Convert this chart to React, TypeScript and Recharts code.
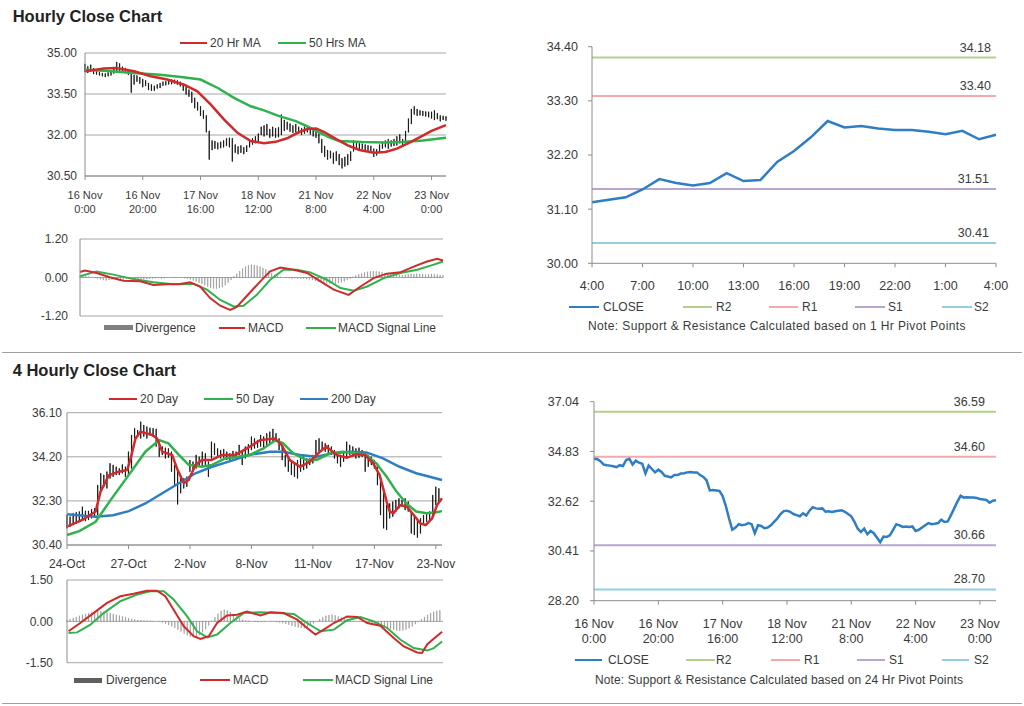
import React from 'react'
import { ComposedChart, LineChart, Bar, Line, XAxis, YAxis, CartesianGrid, ReferenceLine } from 'recharts'

const FONT = '"Liberation Sans", Arial, Helvetica, sans-serif'
const TEXT = '#3a3a3a'
const AXIS = '#8c8c8c'
const GRID = '#a6a6a6'
const RED = '#d02a2a'
const GREEN = '#2fb24c'
const BLUE = '#2f7dc3'
const DIV_GREY = '#8a8a8a'
const R2_C = '#b3d18c'
const R1_C = '#f2aaaa'
const S1_C = '#b7a6d0'
const S2_C = '#93cfe0'

// ---- hourly close chart (16 Nov 0:00 -> 23 Nov 4:00), one bar per hour
const HOURLY_TICKS = [0, 20, 40, 60, 80, 100, 120]
const HOURLY_LABELS = [
  ['16 Nov', '0:00'], ['16 Nov', '20:00'], ['17 Nov', '16:00'], ['18 Nov', '12:00'],
  ['21 Nov', '8:00'], ['22 Nov', '4:00'], ['23 Nov', '0:00'],
]
const HOURLY_LOW = [
  34.31, 34.27, 34.33, 34.23, 34.21, 34.18, 34.15, 34.12, 34.15, 34.18,
  34.25, 34.30, 34.28, 34.30, 34.26, 34.20, 33.55, 33.85, 33.95, 33.88,
  33.75, 33.80, 33.65, 33.62, 33.62, 33.70, 33.72, 33.80, 33.82, 33.85,
  33.86, 33.88, 33.84, 33.78, 33.62, 33.48, 33.40, 33.18, 32.98, 32.90,
  32.70, 32.60, 32.10, 31.10, 31.45, 31.50, 31.48, 31.52, 31.55, 31.60,
  31.55, 31.03, 31.35, 31.30, 31.35, 31.30, 31.38, 31.55, 31.65, 31.70,
  31.78, 32.00, 31.95, 32.00, 31.90, 31.95, 31.90, 31.92, 32.00, 32.15,
  32.20, 32.12, 32.08, 32.10, 32.05, 32.00, 32.05, 32.10, 32.02, 31.95,
  31.90, 31.70, 31.35, 31.20, 31.10, 31.15, 30.95, 31.05, 30.90, 30.78,
  30.85, 30.90, 31.05, 31.40, 31.50, 31.45, 31.48, 31.45, 31.42, 31.40,
  31.20, 31.25, 31.35, 31.50, 31.55, 31.50, 31.58, 31.60, 31.62, 31.70,
  31.60, 31.75, 32.10, 32.40, 32.75, 32.70, 32.72, 32.70, 32.68, 32.65,
  32.60, 32.55, 32.58, 32.50, 32.55, 32.52,
]
const HOURLY_HIGH = [
  34.60, 34.51, 34.57, 34.45, 34.33, 34.30, 34.27, 34.25, 34.29, 34.35,
  34.48, 34.67, 34.62, 34.50, 34.45, 34.40, 34.32, 34.20, 34.18, 34.12,
  34.05, 34.00, 33.90, 33.85, 33.80, 33.85, 33.90, 33.95, 33.97, 34.00,
  34.03, 34.02, 34.00, 33.95, 33.88, 33.78, 33.66, 33.58, 33.36, 33.20,
  33.05, 32.90, 32.72, 32.15, 31.80, 31.78, 31.72, 31.75, 31.80, 31.88,
  31.90, 31.88, 31.65, 31.58, 31.62, 31.55, 31.62, 31.80, 31.88, 31.95,
  32.05, 32.30, 32.35, 32.40, 32.22, 32.30, 32.25, 32.28, 32.75, 32.55,
  32.48, 32.42, 32.35, 32.40, 32.30, 32.25, 32.30, 32.28, 32.25, 32.22,
  32.15, 32.05, 31.85, 31.60, 31.45, 31.42, 31.35, 31.40, 31.30, 31.15,
  31.20, 31.30, 31.40, 31.80, 31.72, 31.70, 31.68, 31.65, 31.62, 31.60,
  31.50, 31.48, 31.65, 31.72, 31.80, 31.85, 31.80, 31.85, 31.95, 32.02,
  31.85, 32.15, 32.60, 32.95, 33.05, 32.95, 32.90, 32.88, 32.86, 32.85,
  32.85, 32.90, 32.80, 32.72, 32.70, 32.68,
]
// [hour index, value]
const HR_MA20 = [
  [0, 34.33], [6.6, 34.43], [10.7, 34.45], [17, 34.33], [22.8, 34.15], [28.5, 34.03],
  [34.3, 33.84], [38.9, 33.6], [43.5, 33.12], [48.1, 32.57], [52.8, 32.08], [57.4, 31.78],
  [62, 31.7], [66, 31.75], [70, 31.88], [74, 32.1], [77, 32.22], [80, 32.24], [83, 32.1],
  [87, 31.85], [91, 31.62], [95, 31.45], [100, 31.35], [104, 31.38], [108, 31.5],
  [112, 31.7], [116, 31.92], [120, 32.15], [125, 32.36],
]
const HR_MA50 = [
  [0, 34.39], [8, 34.34], [17, 34.27], [26, 34.2], [34, 34.11], [40, 34.03], [46, 33.72],
  [51.6, 33.36], [57.4, 33.05], [62, 32.9], [67, 32.7], [73, 32.51], [77, 32.32], [81, 32.1],
  [85, 31.9], [88, 31.78], [96, 31.74], [104, 31.73], [110, 31.74], [117, 31.8], [125, 31.9],
]
const HR_MACD = [
  [0, 0.17], [1.7, 0.22], [5.7, 0.14], [10.3, 0.01], [14.9, -0.1], [20.7, -0.12], [25.3, -0.23],
  [29.9, -0.21], [34.5, -0.2], [37.9, -0.15], [41.4, -0.28], [44.8, -0.64], [48.3, -0.88],
  [51.7, -1.01], [54, -0.92], [57.5, -0.57], [62.1, -0.12], [65.5, 0.19], [69, 0.31],
  [73.6, 0.24], [78.2, 0.14], [82.8, -0.12], [87.4, -0.38], [92.5, -0.54], [96.6, -0.28],
  [101.1, -0.02], [105.7, 0.12], [110.3, 0.16], [114.9, 0.34], [119.5, 0.5], [123, 0.58], [125, 0.53],
]
const HR_SIGNAL = [
  [0, 0.04], [5.7, 0.19], [11.5, 0.09], [18.4, -0.05], [25.3, -0.15], [32.2, -0.21], [39.1, -0.2],
  [43.7, -0.38], [48.3, -0.7], [52.9, -0.9], [56.3, -0.88], [60.9, -0.54], [65.5, -0.07],
  [70.1, 0.24], [74.7, 0.24], [79.3, 0.16], [85, -0.07], [89.7, -0.33], [94.3, -0.41],
  [98.9, -0.28], [104.6, -0.02], [110.3, 0.14], [116.1, 0.24], [121.8, 0.4], [125, 0.5],
]
const HR_DIVERGENCE = [
  0.05, 0.06, 0.05, 0.03, 0.01, -0.01,
  -0.04, -0.06, -0.08, -0.09, -0.08, -0.06, -0.05,
  -0.04, -0.05, -0.06, -0.05, -0.04, -0.03, -0.04, -0.05,
  -0.05, -0.06, -0.05, -0.04, -0.03, -0.02, -0.02, -0.03, -0.02, -0.01,
  0.0, 0.01, 0.01, 0.0, -0.01, -0.02, -0.04,
  -0.06, -0.09, -0.12, -0.16, -0.2, -0.24, -0.28, -0.32, -0.34, -0.35, -0.33, -0.3, -0.24, -0.16, -0.08,
  0.04, 0.12, 0.2, 0.28, 0.34, 0.38, 0.4, 0.39, 0.37, 0.34, 0.3, 0.26, 0.2, 0.14, 0.08, 0.04,
  0.02, 0.0, -0.01, -0.02, -0.03, -0.02, -0.03, -0.04, -0.03, -0.05, -0.06,
  -0.08, -0.1, -0.12, -0.14, -0.16, -0.18, -0.19, -0.2, -0.19, -0.17, -0.15, -0.12, -0.08, -0.04,
  0.02, 0.06, 0.1, 0.13, 0.16, 0.18, 0.19, 0.2, 0.19, 0.18, 0.16, 0.14, 0.12, 0.1, 0.09,
  0.08, 0.08, 0.07, 0.09, 0.1, 0.11, 0.1, 0.12, 0.11, 0.1, 0.09, 0.1, 0.11, 0.1, 0.09, 0.08, 0.07,
]

// ---- 1 hr pivot chart (last 24 hours)
const PIVOT1_HOURS = [
  '4:00', '5:00', '6:00', '7:00', '8:00', '9:00', '10:00', '11:00', '12:00', '13:00', '14:00', '15:00',
  '16:00', '17:00', '18:00', '19:00', '20:00', '21:00', '22:00', '23:00', '0:00', '1:00', '2:00', '3:00', '4:00',
]
const PIVOT1_CLOSE = [
  31.24, 31.29, 31.34, 31.5, 31.71, 31.63, 31.58, 31.63, 31.83, 31.67, 31.69, 32.06, 32.28,
  32.56, 32.89, 32.76, 32.79, 32.74, 32.71, 32.71, 32.67, 32.62, 32.69, 32.52, 32.61,
]
const PIVOT1_LEVELS = { r2: 34.18, r1: 33.4, s1: 31.51, s2: 30.41 }

// ---- 24 hr pivot chart (hourly closes, same span as hourly chart)
const PIVOT24_CLOSE = [
  34.49, 34.49, 34.4, 34.25, 34.22, 34.2, 34.17, 34.13, 34.22, 34.18,
  34.45, 34.5, 34.25, 34.42, 34.33, 34.28, 33.85, 34.2, 34.05, 33.9,
  34.02, 33.92, 33.75, 33.72, 33.68, 33.78, 33.78, 33.85, 33.86, 33.9,
  33.92, 33.9, 33.9, 33.78, 33.7, 33.55, 33.1, 33.12, 33.1, 33.08,
  32.85, 32.4, 31.85, 31.35, 31.45, 31.6, 31.55, 31.58, 31.65, 31.6,
  31.2, 31.55, 31.52, 31.42, 31.45, 31.55, 31.7, 31.85, 32.05, 32.18,
  32.2, 32.15, 32.05, 32.0, 31.95, 32.08, 31.98, 32.2, 32.35, 32.3,
  32.28, 32.3, 32.15, 32.17, 32.14, 32.17, 32.2, 32.22, 32.15, 32.05,
  31.95, 31.7, 31.4, 31.25, 31.4, 31.15, 31.3, 31.2, 31.0, 30.8,
  31.05, 31.03, 31.1, 31.35, 31.6, 31.55, 31.48, 31.5, 31.48, 31.5,
  31.3, 31.35, 31.45, 31.55, 31.65, 31.6, 31.62, 31.65, 31.8, 31.7,
  31.72, 32.0, 32.3, 32.6, 32.86, 32.78, 32.8, 32.78, 32.78, 32.76,
  32.72, 32.7, 32.68, 32.55, 32.64, 32.66,
]
const PIVOT24_LEVELS = { r2: 36.59, r1: 34.6, s1: 30.66, s2: 28.7 }

// ---- 4 hourly close chart (24-Oct -> 23-Nov)
const FOURH_TICKS = [0, 20, 40, 60, 80, 100, 120]
const FOURH_LABELS = ['24-Oct', '27-Oct', '2-Nov', '8-Nov', '11-Nov', '17-Nov', '23-Nov']
const FOURH_LOW = [
  31.12, 31.19, 31.26, 31.33, 31.4, 31.48, 31.43, 31.48, 31.55, 31.62,
  31.69, 32.7, 32.91, 32.84, 33.27, 33.34, 33.42, 33.42, 33.49, 33.34,
  33.42, 33.7, 34.99, 35.07, 34.99, 35.07, 34.99, 35.14, 35.07, 34.64,
  34.2, 34.28, 34.13, 34.16, 33.56, 32.98, 32.15, 32.63, 32.84, 32.91,
  33.56, 33.63, 33.7, 33.77, 33.77, 33.85, 33.34, 34.13, 34.28, 34.2,
  34.13, 34.16, 34.06, 34.02, 34.13, 34.06, 34.28, 33.85, 34.13, 34.28,
  34.49, 34.56, 34.59, 34.64, 34.56, 34.71, 34.78, 34.82, 34.85, 34.49,
  34.06, 33.77, 33.56, 33.42, 33.34, 33.27, 33.56, 33.63, 33.7, 33.85,
  33.92, 34.13, 34.42, 34.49, 34.42, 34.28, 34.28, 34.13, 33.92, 33.77,
  33.99, 34.13, 34.28, 34.2, 34.13, 34.16, 34.2, 33.56, 33.77, 33.85,
  33.7, 32.98, 31.69, 31.12, 31.05, 31.55, 31.62, 31.84, 31.98, 32.05,
  31.91, 31.84, 30.9, 30.83, 30.72, 30.9, 31.33, 31.4, 31.48, 31.69,
  32.12, 32.27,
]
const FOURH_HIGH = [
  31.69, 31.62, 31.77, 31.81, 31.84, 32.05, 31.87, 31.87, 31.95, 31.98,
  32.98, 33.49, 33.42, 33.56, 33.92, 33.85, 33.77, 33.7, 33.87, 33.77,
  34.42, 35.14, 35.43, 35.35, 35.71, 35.57, 35.5, 35.45, 35.43, 35.4,
  34.85, 34.64, 34.59, 34.56, 34.42, 33.85, 33.63, 33.34, 33.27, 33.34,
  34.06, 33.99, 34.28, 34.2, 34.42, 34.35, 33.99, 34.85, 34.78, 34.56,
  34.49, 34.53, 34.42, 34.35, 34.45, 34.42, 34.71, 34.42, 34.64, 34.74,
  35.07, 34.99, 34.92, 35.14, 35.07, 35.21, 35.28, 35.4, 35.21, 34.99,
  34.71, 34.28, 34.2, 33.99, 33.92, 34.06, 34.13, 34.2, 34.13, 34.13,
  34.28, 34.92, 34.99, 34.85, 34.78, 34.71, 34.64, 34.49, 34.35, 34.28,
  34.42, 34.85, 34.71, 34.64, 34.56, 34.59, 34.49, 34.35, 34.28, 34.2,
  34.06, 33.92, 33.13, 32.7, 32.12, 32.19, 32.27, 32.34, 32.41, 32.34,
  32.41, 32.27, 31.84, 31.69, 31.48, 31.55, 31.69, 31.77, 31.84, 32.55,
  32.91, 32.84,
]
const D_MA20 = [
  [0, 31.19], [5, 31.48], [9.3, 31.84], [10.9, 32.7], [13.6, 33.4], [16.9, 33.56], [19.6, 33.63],
  [20.7, 34.13], [22.3, 34.99], [23.9, 35.28], [27.7, 35.14], [29.3, 34.99], [31, 34.42],
  [34.2, 34.28], [35.8, 33.7], [38, 33.06], [39.6, 33.2], [41.8, 33.85], [43.9, 34.06],
  [47, 34.06], [50.4, 34.28], [54.8, 34.28], [59.5, 34.64], [62.8, 34.92], [67.6, 34.99],
  [69.8, 34.71], [72.5, 34.06], [75.8, 33.77], [79, 33.99], [82.3, 34.42], [84.4, 34.64],
  [87.7, 34.28], [91, 34.16], [94.2, 34.31], [96.9, 34.28], [99.6, 33.92], [101.7, 33.42],
  [104, 32.27], [105, 31.84], [106.2, 31.77], [108.4, 32.12], [110.6, 32.05], [112.8, 31.69],
  [115, 31.33], [116.7, 31.26], [118.8, 31.55], [120.4, 32.12], [122, 32.41],
]
const D_MA50 = [
  [0, 30.83], [4, 31.0], [9.3, 31.4], [14, 32.3], [20, 33.4], [25.5, 34.42], [30, 34.92],
  [33, 34.78], [36.4, 34.28], [39.6, 33.85], [43.9, 33.77], [47.2, 33.85], [51.5, 34.13],
  [55.5, 34.2], [59.5, 34.28], [63.9, 34.56], [67.9, 34.92], [70.3, 34.78], [73.6, 34.35],
  [77.9, 34.06], [81.2, 34.06], [85.5, 34.35], [89.8, 34.42], [94.2, 34.35], [97.4, 34.28],
  [100.6, 33.92], [104, 33.34], [107.2, 32.7], [110.4, 32.19], [113.6, 31.84], [117, 31.77],
  [120.2, 31.81], [122, 31.86],
]
const D_MA200 = [
  [0, 31.72], [9.3, 31.62], [15, 31.68], [20.1, 31.86], [25.5, 32.19], [31, 32.63], [36.4, 33.06],
  [41.8, 33.49], [47.2, 33.77], [52.6, 33.99], [59.1, 34.28], [66, 34.42], [70.3, 34.42],
  [75.8, 34.28], [81.2, 34.2], [86.5, 34.35], [92, 34.42], [97.4, 34.39], [102.8, 34.13],
  [108.2, 33.77], [113.6, 33.49], [118, 33.34], [122, 33.2],
]
const D_MACD = [
  [0.5, -0.36], [4.3, -0.06], [8.6, 0.3], [13, 0.67], [17.3, 0.91], [21.6, 1.0], [25.9, 1.11],
  [29.2, 1.11], [31.9, 0.91], [34.6, 0.42], [37.9, -0.18], [41.1, -0.54], [43.3, -0.64],
  [46, -0.54], [48.7, -0.06], [51.9, 0.21], [55.2, 0.24], [58.4, 0.36], [62.8, 0.21], [66, 0.33],
  [70.3, 0.3], [74.7, 0.06], [77.9, -0.24], [80.6, -0.48], [83.3, -0.3], [86.6, -0.06],
  [90.9, 0.18], [94.2, 0.16], [97.4, -0.06], [101.7, -0.16], [106.1, -0.61], [109.3, -0.91],
  [113.6, -1.13], [115.2, -1.15], [116.9, -0.83], [119, -0.63], [121.7, -0.38],
]
const D_SIGNAL = [
  [0.5, -0.42], [3.3, -0.4], [7.6, -0.12], [11.9, 0.3], [17.3, 0.73], [22.7, 0.97], [27, 1.09],
  [31.4, 1.09], [34.6, 0.79], [39, 0.18], [42.2, -0.36], [45.5, -0.58], [48.7, -0.48], [53, -0.06],
  [57.3, 0.3], [62.8, 0.33], [68.2, 0.3], [73.6, 0.27], [77.9, -0.06], [82.3, -0.36], [86.6, -0.3],
  [90.9, 0.04], [95.2, 0.16], [99.5, 0.0], [103.9, -0.24], [108.2, -0.67], [112.5, -0.97],
  [116.9, -1.06], [119, -0.97], [121.7, -0.73],
]
const D_DIVERGENCE = [
  0.05, 0.08, 0.12, 0.16,
  0.2, 0.24, 0.27, 0.3, 0.32, 0.34, 0.36, 0.36, 0.35, 0.33,
  0.3, 0.27, 0.24, 0.21, 0.18, 0.15, 0.12, 0.09, 0.07,
  0.05, 0.04, 0.03, 0.02, 0.02, 0.01, 0.0, -0.01,
  -0.04, -0.08, -0.13, -0.18, -0.24, -0.3, -0.37, -0.44, -0.5, -0.55, -0.58, -0.56, -0.5, -0.4, -0.28, -0.15,
  0.02, 0.15, 0.28, 0.38, 0.42, 0.4, 0.34, 0.26, 0.18, 0.11, 0.06, 0.03,
  0.02, 0.0, -0.02, -0.03, -0.02, -0.01, 0.0, 0.01, 0.0, -0.02, -0.04, -0.06,
  -0.09, -0.12, -0.16, -0.19, -0.22, -0.24, -0.25, -0.22, -0.16, -0.08, 0.0,
  0.08, 0.15, 0.2, 0.23, 0.24, 0.22, 0.18, 0.13, 0.08, 0.04,
  0.02, 0.01, 0.0, -0.01, -0.02, -0.03, -0.05, -0.07,
  -0.1, -0.13, -0.17, -0.21, -0.25, -0.28, -0.31, -0.33, -0.34, -0.33, -0.3, -0.25, -0.18, -0.1, -0.02,
  0.08, 0.16, 0.24, 0.3, 0.35, 0.38, 0.4,
]

const pts = (arr: number[][]) => arr.map(([i, v]) => ({ i, v }))
const hourlyBars = HOURLY_LOW.map((lo, i) => ({ i, range: [lo, HOURLY_HIGH[i]] }))
const fourhBars = FOURH_LOW.map((lo, i) => ({ i, range: [lo, FOURH_HIGH[i]] }))
const hrDiv = HR_DIVERGENCE.map((d, i) => ({ i, d }))
const dDiv = D_DIVERGENCE.map((d, i) => ({ i, d }))
const pivot1 = PIVOT1_CLOSE.map((v, k) => ({ h: PIVOT1_HOURS[k], v }))
const pivot24 = PIVOT24_CLOSE.map((v, i) => ({ i, v }))

const fmt2 = (v: number) => v.toFixed(2)
const yTick = { fontSize: 12, fill: TEXT, fontFamily: FONT }

function DateTick(props: any) {
  const { x, y, payload, labels, step, size, dy1, dy2 } = props
  const lab = labels[Math.round(payload.value / step)]
  if (!lab) return null
  const [a, b] = Array.isArray(lab) ? lab : [lab, '']
  return (
    <text x={x} y={y} textAnchor="middle" fontSize={size} fill={TEXT} fontFamily={FONT}>
      <tspan x={x} dy={dy1}>{a}</tspan>
      {b ? <tspan x={x} dy={dy2}>{b}</tspan> : null}
    </text>
  )
}

function HourTick(props: any) {
  const { x, y, payload } = props
  return (
    <text x={x} y={y + 21} textAnchor="middle" fontSize={12.5} fill={TEXT} fontFamily={FONT}>
      {payload.value}
    </text>
  )
}

function PivotLabel(props: any) {
  const { viewBox, txt, inset } = props
  if (!viewBox) return null
  return (
    <text x={viewBox.x + viewBox.width - inset} y={viewBox.y - 6} textAnchor="end"
      fontSize={12.5} fill={TEXT} fontFamily={FONT}>
      {txt}
    </text>
  )
}

type Key = { label: string; color: string; x: number; w: number; tx: number; thick?: number }

function KeyRow({ top, items }: { top: number; items: Key[] }) {
  return (
    <>
      {items.map((it) => {
        const t = it.thick || 2
        return (
          <React.Fragment key={it.label}>
            <div style={{ position: 'absolute', left: it.x, top: top + 7 - t / 2, width: it.w, height: t, background: it.color }} />
            <div style={{ position: 'absolute', left: it.tx, top, fontSize: 12, lineHeight: '14px', color: TEXT, whiteSpace: 'nowrap' }}>
              {it.label}
            </div>
          </React.Fragment>
        )
      })}
    </>
  )
}

function Text({ left, top, children, size = 12, bold = false, spacing = 0 }: any) {
  return (
    <div style={{ position: 'absolute', left, top, fontSize: size, lineHeight: size > 14 ? '20px' : '14px', fontWeight: bold ? 700 : 400, color: bold ? '#222' : TEXT, whiteSpace: 'nowrap', letterSpacing: spacing }}>
      {children}
    </div>
  )
}

function Rule({ top }: { top: number }) {
  return <div style={{ position: 'absolute', left: 2, top, width: 1020, height: 1, background: '#a0a0a0' }} />
}

function Box({ left, top, children }: any) {
  return <div style={{ position: 'absolute', left, top }}>{children}</div>
}

export default function App() {
  return (
    <div style={{ position: 'absolute', left: 0, top: 0, width: 1024, height: 706, background: '#fff', fontFamily: FONT, overflow: 'hidden' }}>
      <Text left={12.7} top={5.7} size={16.5} bold>Hourly Close Chart</Text>
      <Text left={12.7} top={359.7} size={16.5} bold>4 Hourly Close Chart</Text>
      <Rule top={352} />
      <Rule top={703} />

      {/* hourly price bars with moving averages */}
      <Box left={0} top={40}>
        <ComposedChart width={470} height={190} data={hourlyBars} margin={{ top: 13, right: 24, bottom: 14, left: 0 }}>
          <CartesianGrid horizontal vertical={false} stroke={GRID} />
          <XAxis type="number" dataKey="i" domain={[0, 125]} ticks={HOURLY_TICKS} interval={0} height={40}
            stroke={AXIS} tickSize={4} tickMargin={2}
            tick={<DateTick labels={HOURLY_LABELS} step={20} size={11} dy1={17} dy2={14} />} />
          <YAxis domain={[30.5, 35]} ticks={[30.5, 32, 33.5, 35]} interval={0} width={85} tickFormatter={fmt2}
            stroke={AXIS} tickLine={false} tickSize={4} tickMargin={4} tick={yTick} />
          <Bar dataKey="range" fill="#000" stroke="#000" strokeWidth={0.7} barSize={1.6} isAnimationActive={false} />
          <Line data={pts(HR_MA50)} dataKey="v" stroke={GREEN} strokeWidth={2.5} dot={false} isAnimationActive={false} />
          <Line data={pts(HR_MA20)} dataKey="v" stroke={RED} strokeWidth={2.5} dot={false} isAnimationActive={false} />
        </ComposedChart>
      </Box>
      <KeyRow top={36.3} items={[
        { label: '20 Hr MA', color: RED, x: 180, w: 27, tx: 210 },
        { label: '50 Hrs MA', color: GREEN, x: 278, w: 28, tx: 309 },
      ]} />

      {/* hourly MACD */}
      <Box left={0} top={230}>
        <ComposedChart width={465} height={95} data={hrDiv} margin={{ top: 9, right: 22, bottom: 9, left: 0 }}>
          <CartesianGrid horizontal vertical={false} stroke={GRID} />
          <XAxis type="number" dataKey="i" domain={[0, 125]} hide />
          <YAxis domain={[-1.2, 1.2]} ticks={[-1.2, 0, 1.2]} interval={0} width={80} tickFormatter={fmt2}
            stroke={AXIS} tickLine={false} tickSize={4} tickMargin={8} tick={yTick} />
          <Bar dataKey="d" fill={DIV_GREY} stroke={DIV_GREY} strokeWidth={0.5} barSize={1} isAnimationActive={false} />
          <Line data={pts(HR_SIGNAL)} dataKey="v" stroke={GREEN} strokeWidth={2} dot={false} isAnimationActive={false} />
          <Line data={pts(HR_MACD)} dataKey="v" stroke={RED} strokeWidth={2} dot={false} isAnimationActive={false} />
        </ComposedChart>
      </Box>
      <KeyRow top={320.5} items={[
        { label: 'Divergence', color: '#7f7f7f', x: 104, w: 29, tx: 135, thick: 5 },
        { label: 'MACD', color: RED, x: 219, w: 26, tx: 248 },
        { label: 'MACD Signal Line', color: GREEN, x: 306, w: 30, tx: 338 },
      ]} />

      {/* 1 hr pivot chart */}
      <Box left={512} top={30}>
        <LineChart width={512} height={270} data={pivot1} margin={{ top: 16.7, right: 28, bottom: 11.7, left: 0 }}>
          <XAxis dataKey="h" interval={2} height={25} stroke={AXIS} tickSize={4} tickMargin={2} tick={<HourTick />} />
          <YAxis domain={[30, 34.4]} ticks={[30, 31.1, 32.2, 33.3, 34.4]} interval={0} width={80} tickFormatter={fmt2}
            stroke={AXIS} tickSize={4} tickMargin={10} tick={{ ...yTick, fontSize: 12.5 }} />
          <ReferenceLine y={PIVOT1_LEVELS.r2} stroke={R2_C} strokeWidth={2} label={<PivotLabel txt="34.18" inset={5} />} />
          <ReferenceLine y={PIVOT1_LEVELS.r1} stroke={R1_C} strokeWidth={2} label={<PivotLabel txt="33.40" inset={5} />} />
          <ReferenceLine y={PIVOT1_LEVELS.s1} stroke={S1_C} strokeWidth={2} label={<PivotLabel txt="31.51" inset={7} />} />
          <ReferenceLine y={PIVOT1_LEVELS.s2} stroke={S2_C} strokeWidth={2} label={<PivotLabel txt="30.41" inset={7} />} />
          <Line dataKey="v" stroke={BLUE} strokeWidth={2.5} dot={false} isAnimationActive={false} />
        </LineChart>
      </Box>
      <KeyRow top={300.2} items={[
        { label: 'CLOSE', color: BLUE, x: 569, w: 30, tx: 603, thick: 2.5 },
        { label: 'R2', color: R2_C, x: 683, w: 29, tx: 716 },
        { label: 'R1', color: R1_C, x: 769, w: 29, tx: 802 },
        { label: 'S1', color: S1_C, x: 855, w: 30, tx: 888 },
        { label: 'S2', color: S2_C, x: 942, w: 30, tx: 974 },
      ]} />
      <Text left={588} top={319.2} spacing={0.38}>Note: Support &amp; Resistance Calculated based on 1 Hr Pivot Points</Text>

      {/* 4 hourly price bars with moving averages */}
      <Box left={0} top={400}>
        <ComposedChart width={465} height={190} data={fourhBars} margin={{ top: 12.7, right: 23, bottom: 15, left: 0 }}>
          <CartesianGrid horizontal vertical={false} stroke={GRID} />
          <XAxis type="number" dataKey="i" domain={[0, 122]} ticks={FOURH_TICKS} interval={0} height={30}
            stroke={AXIS} tickSize={4} tickMargin={2}
            tick={<DateTick labels={FOURH_LABELS} step={20} size={12} dy1={17} dy2={0} />} />
          <YAxis domain={[30.4, 36.1]} ticks={[30.4, 32.3, 34.2, 36.1]} interval={0} width={67} tickFormatter={fmt2}
            stroke={AXIS} tickLine={false} tickSize={2} tickMargin={3} tick={yTick} />
          <Bar dataKey="range" fill="#000" stroke="#000" strokeWidth={0.7} barSize={1.6} isAnimationActive={false} />
          <Line data={pts(D_MA200)} dataKey="v" stroke={BLUE} strokeWidth={2.5} dot={false} isAnimationActive={false} />
          <Line data={pts(D_MA50)} dataKey="v" stroke={GREEN} strokeWidth={2.5} dot={false} isAnimationActive={false} />
          <Line data={pts(D_MA20)} dataKey="v" stroke={RED} strokeWidth={2.5} dot={false} isAnimationActive={false} />
        </ComposedChart>
      </Box>
      <KeyRow top={391.7} items={[
        { label: '20 Day', color: RED, x: 109, w: 28, tx: 140 },
        { label: '50 Day', color: GREEN, x: 204, w: 29, tx: 236 },
        { label: '200 Day', color: BLUE, x: 300, w: 28, tx: 331 },
      ]} />

      {/* 4 hourly MACD */}
      <Box left={0} top={570}>
        <ComposedChart width={465} height={100} data={dDiv} margin={{ top: 10, right: 22, bottom: 7.3, left: 0 }}>
          <CartesianGrid horizontal vertical={false} stroke={GRID} />
          <XAxis type="number" dataKey="i" domain={[0, 122]} hide />
          <YAxis domain={[-1.5, 1.5]} ticks={[-1.5, 0, 1.5]} interval={0} width={67} tickFormatter={fmt2}
            stroke={AXIS} tickLine={false} tickSize={4} tickMargin={10} tick={yTick} />
          <Bar dataKey="d" fill={DIV_GREY} stroke={DIV_GREY} strokeWidth={0.5} barSize={1} isAnimationActive={false} />
          <Line data={pts(D_SIGNAL)} dataKey="v" stroke={GREEN} strokeWidth={2} dot={false} isAnimationActive={false} />
          <Line data={pts(D_MACD)} dataKey="v" stroke={RED} strokeWidth={2} dot={false} isAnimationActive={false} />
        </ComposedChart>
      </Box>
      <KeyRow top={673} items={[
        { label: 'Divergence', color: '#5f5f5f', x: 74, w: 28, tx: 106, thick: 5 },
        { label: 'MACD', color: RED, x: 200, w: 30, tx: 233 },
        { label: 'MACD Signal Line', color: GREEN, x: 303, w: 30, tx: 335 },
      ]} />

      {/* 24 hr pivot chart */}
      <Box left={512} top={385}>
        <ComposedChart width={512} height={260} data={pivot24} margin={{ top: 16.7, right: 28, bottom: 4.3, left: 0 }}>
          <XAxis type="number" dataKey="i" domain={[0, 125]} ticks={HOURLY_TICKS} interval={0} height={40}
            stroke={AXIS} tickSize={4} tickMargin={2}
            tick={<DateTick labels={HOURLY_LABELS} step={20} size={12.5} dy1={21.5} dy2={15} />} />
          <YAxis domain={[28.2, 37.04]} ticks={[28.2, 30.41, 32.62, 34.83, 37.04]} interval={0} width={82} tickFormatter={fmt2}
            stroke={AXIS} tickSize={4} tickMargin={11} tick={{ ...yTick, fontSize: 12.5 }} />
          <ReferenceLine y={PIVOT24_LEVELS.r2} stroke={R2_C} strokeWidth={2} label={<PivotLabel txt="36.59" inset={11} />} />
          <ReferenceLine y={PIVOT24_LEVELS.r1} stroke={R1_C} strokeWidth={2} label={<PivotLabel txt="34.60" inset={11} />} />
          <ReferenceLine y={PIVOT24_LEVELS.s1} stroke={S1_C} strokeWidth={2} label={<PivotLabel txt="30.66" inset={11} />} />
          <ReferenceLine y={PIVOT24_LEVELS.s2} stroke={S2_C} strokeWidth={2} label={<PivotLabel txt="28.70" inset={11} />} />
          <Line dataKey="v" stroke={BLUE} strokeWidth={2.5} dot={false} isAnimationActive={false} />
        </ComposedChart>
      </Box>
      <KeyRow top={653} items={[
        { label: 'CLOSE', color: BLUE, x: 575, w: 27, tx: 608, thick: 2.5 },
        { label: 'R2', color: R2_C, x: 686, w: 29, tx: 716 },
        { label: 'R1', color: R1_C, x: 771, w: 29, tx: 804 },
        { label: 'S1', color: S1_C, x: 857, w: 28, tx: 889 },
        { label: 'S2', color: S2_C, x: 942, w: 27, tx: 974 },
      ]} />
      <Text left={595} top={673} spacing={0.12}>Note: Support &amp; Resistance Calculated based on 24 Hr Pivot Points</Text>
    </div>
  )
}
